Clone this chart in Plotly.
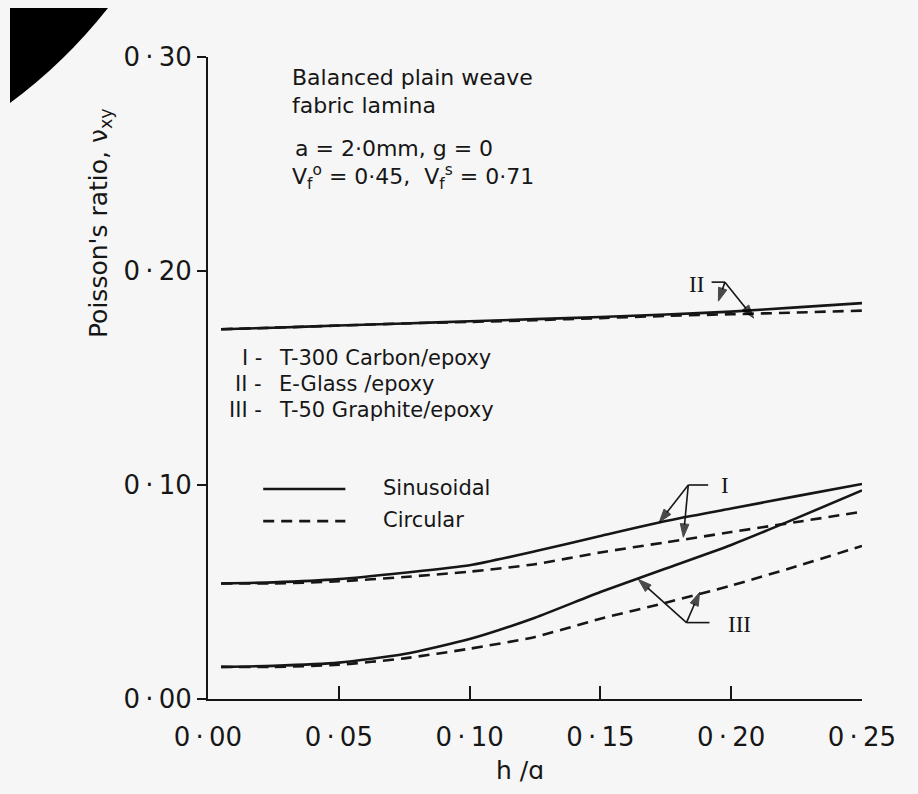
import plotly.graph_objects as go

# ---------------- data ----------------
h_over_a = [0.005, 0.025, 0.05, 0.075, 0.10, 0.125, 0.15, 0.175, 0.20, 0.225, 0.25]

I_sinusoidal = [0.054, 0.0545, 0.056, 0.059, 0.0625, 0.069, 0.0762, 0.0832, 0.089, 0.0948, 0.1005]
I_circular = [0.054, 0.054, 0.055, 0.057, 0.0595, 0.063, 0.0685, 0.0732, 0.078, 0.0827, 0.0875]

II_sinusoidal = [0.1728, 0.1735, 0.1745, 0.1755, 0.1765, 0.1775, 0.1785, 0.1797, 0.181, 0.183, 0.185]
II_circular = [0.1728, 0.1735, 0.1745, 0.1755, 0.1762, 0.177, 0.178, 0.179, 0.1798, 0.1806, 0.1815]

III_sinusoidal = [0.015, 0.0155, 0.017, 0.021, 0.028, 0.038, 0.050, 0.061, 0.072, 0.0845, 0.0975]
III_circular = [0.015, 0.015, 0.016, 0.019, 0.0235, 0.029, 0.0375, 0.045, 0.053, 0.062, 0.0715]

x_tick_vals = [0.0, 0.05, 0.10, 0.15, 0.20, 0.25]
x_tick_text = ["0\u2009·\u200900", "0\u2009·\u200905", "0\u2009·\u200910",
               "0\u2009·\u200915", "0\u2009·\u200920", "0\u2009·\u200925"]
y_tick_vals = [0.0, 0.10, 0.20, 0.30]
y_tick_text = ["0\u2009·\u200900", "0\u2009·\u200910", "0\u2009·\u200920", "0\u2009·\u200930"]

materials = [("I -", "T-300 Carbon/epoxy"),
             ("II -", "E-Glass /epoxy"),
             ("III -", "T-50 Graphite/epoxy")]

# ---------------- styling ----------------
INK = "#161616"
PAPER = "#f6f6f6"
FONT = "DejaVu Sans"
LW = 2.6
DASH = "11px,7px"

fig = go.Figure()

series = [
    (I_sinusoidal, "solid"), (I_circular, DASH),
    (II_sinusoidal, "solid"), (II_circular, DASH),
    (III_sinusoidal, "solid"), (III_circular, DASH),
]
for ys, dash in series:
    fig.add_trace(go.Scatter(
        x=h_over_a, y=ys, mode="lines",
        line=dict(color=INK, width=LW, dash=dash, shape="spline", smoothing=0.6),
        showlegend=False, hoverinfo="skip"))

annotations = []
shapes = []


def txt(x, y, s, size=22, xanchor="left", family=FONT):
    annotations.append(dict(x=x, y=y, xref="x", yref="y", text=s, showarrow=False,
                            xanchor=xanchor, yanchor="middle",
                            font=dict(family=family, size=size, color=INK)))


# Text block
txt(0.0314, 0.2906, "Balanced plain weave")
txt(0.0314, 0.2772, "fabric lamina")
txt(0.0325, 0.2572, "a = 2·0mm, g = 0")
txt(0.0314, 0.2440, "V<sub>f</sub><sup>o</sup> = 0·45,  V<sub>f</sub><sup>s</sup> = 0·71")

mat_y = [0.1592, 0.1470, 0.1352]
for (num, name), yy in zip(materials, mat_y):
    txt(0.0215, yy, num, size=21, xanchor="right")
    txt(0.0265, yy, name, size=21)

# line-style key
shapes.append(dict(type="line", xref="x", yref="y", x0=0.0211, x1=0.0525, y0=0.0981, y1=0.0981,
                   line=dict(color=INK, width=LW)))
shapes.append(dict(type="line", xref="x", yref="y", x0=0.0211, x1=0.0525, y0=0.0831, y1=0.0831,
                   line=dict(color=INK, width=LW, dash=DASH)))
txt(0.066, 0.0985, "Sinusoidal", size=21)
txt(0.066, 0.0835, "Circular", size=21)


# curve identifiers with leader arrows
def leader(label, label_xy, bar, junction, tips):
    txt(label_xy[0], label_xy[1], label, size=23, family="Liberation Serif")
    shapes.append(dict(type="line", xref="x", yref="y", x0=bar[0], x1=bar[1],
                       y0=junction[1], y1=junction[1], line=dict(color=INK, width=1.6)))
    for tx, ty in tips:
        fig.add_trace(go.Scatter(
            x=[junction[0], tx], y=[junction[1], ty], mode="lines+markers",
            line=dict(color=INK, width=1.6),
            marker=dict(symbol=["circle", "arrow"], size=[0, 14], angleref="previous",
                        color="#000000", line=dict(width=1, color="#000000")),
            showlegend=False, hoverinfo="skip"))


leader("II", (0.1830, 0.1935), (0.1925, 0.1976), (0.1976, 0.1948),
       [(0.1951, 0.1859), (0.2086, 0.1780)])
leader("I", (0.1955, 0.0998), (0.1836, 0.1912), (0.1836, 0.1000),
       [(0.1725, 0.0826), (0.1817, 0.0756)])
leader("III", (0.1980, 0.0347), (0.1829, 0.1917), (0.1829, 0.0357),
       [(0.1645, 0.0559), (0.1879, 0.0498)])

# axis titles
annotations.append(dict(x=-0.166, y=0.742, xref="paper", yref="paper",
                        text="Poisson's ratio, ν<sub>xy</sub>",
                        textangle=-90, showarrow=False, xanchor="center", yanchor="middle",
                        font=dict(family=FONT, size=25, color=INK)))
annotations.append(dict(x=0.477, y=-0.112, xref="paper", yref="paper", text="h /ɑ",
                        showarrow=False, xanchor="center", yanchor="middle",
                        font=dict(family=FONT, size=25, color=INK)))

# scan artefact: dark corner
shapes.append(dict(type="path", xref="paper", yref="paper",
                   path="M -0.3028 1.0762 L -0.1529 1.0762 Q -0.22 0.99 -0.3028 0.9283 Z",
                   fillcolor="#000000", line=dict(width=0)))

fig.update_layout(
    width=918, height=794,
    margin=dict(l=208, r=56, t=57, b=95),
    paper_bgcolor=PAPER, plot_bgcolor=PAPER,
    font=dict(family=FONT, color=INK),
    annotations=annotations, shapes=shapes,
    showlegend=False,
)
fig.update_xaxes(range=[0, 0.25], showgrid=False, zeroline=False,
                 showline=True, linecolor=INK, linewidth=2,
                 ticks="inside", ticklen=13, tickwidth=1.6, tickcolor=INK,
                 tickvals=x_tick_vals, ticktext=x_tick_text,
                 tickfont=dict(family=FONT, size=26, color=INK), ticklabelstandoff=14)
fig.update_yaxes(range=[0, 0.30], showgrid=False, zeroline=False,
                 showline=True, linecolor=INK, linewidth=2,
                 ticks="outside", ticklen=9, tickwidth=1.6, tickcolor=INK,
                 tickvals=y_tick_vals, ticktext=y_tick_text,
                 tickfont=dict(family=FONT, size=26, color=INK))

fig.write_html("out.html")
